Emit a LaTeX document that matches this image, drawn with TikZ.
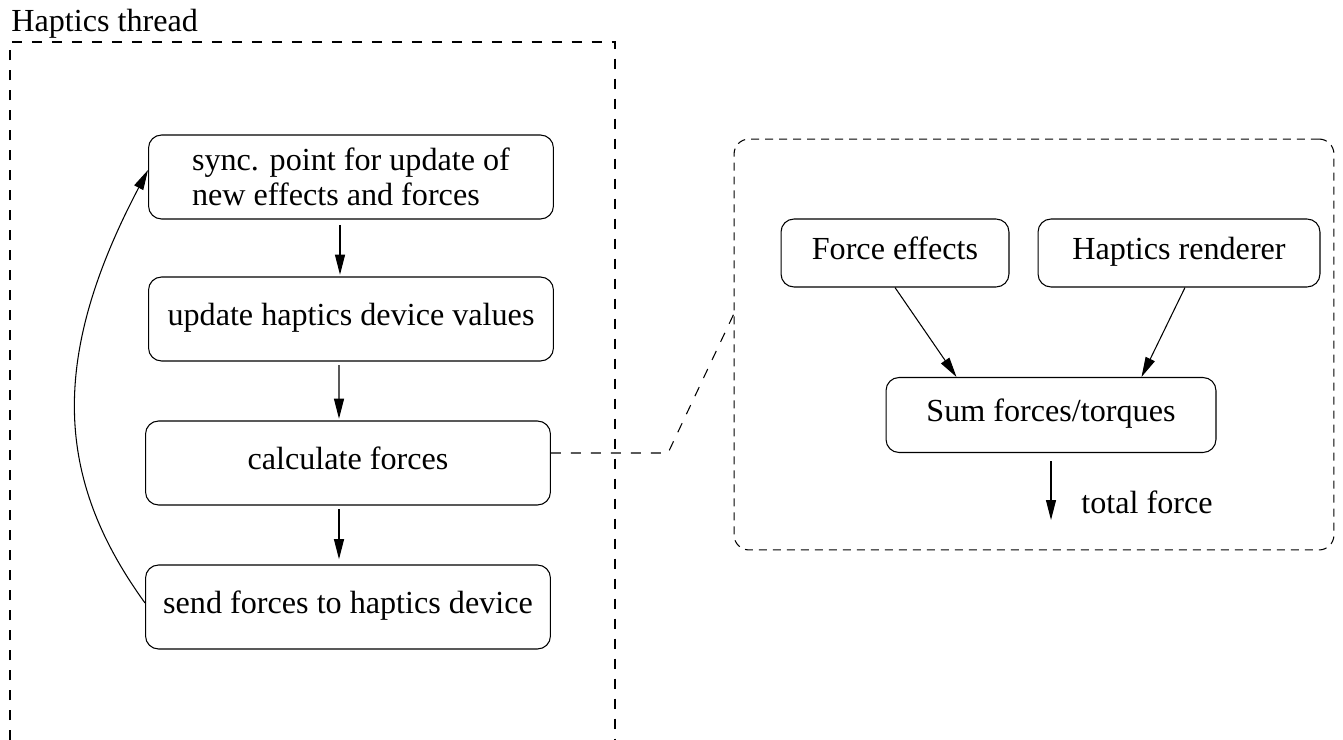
\documentclass[tikz,border=0pt]{standalone}
\usepackage{fontspec}
\setmainfont{Liberation Serif}
\usetikzlibrary{arrows.meta, positioning}

\tikzset{
  stepnode/.style={draw, rounded corners=0.26cm, line width=0.6pt, minimum height=1.68cm, inner sep=2pt, font=\fontsize{18.3}{20}\selectfont},
  oneline/.style={text height=0.82em, text depth=0.1em},
  grpline/.style={line width=0.6pt, dash pattern=on 0.2cm off 0.2cm},
  rndline/.style={line width=0.6pt, dash pattern=on 0.16cm off 0.12cm},
  arr/.style={-{Triangle[length=0.4cm,width=0.2cm]}, line width=0.6pt},
  lbl/.style={font=\fontsize{18.3}{20}\selectfont, inner sep=0pt}
}

\begin{document}
\begin{tikzpicture}[x=0.02cm, y=-0.02cm]
    \useasboundingbox (0,0) rectangle (1343,740);

    % Haptics thread
    \node[lbl, anchor=base west] (thrlbl) at (11,32) {Haptics thread};
    \draw[grpline] (10,740) |- (615,42) -- (615,740);

    \node[stepnode, minimum width=8.1cm, align=left] (sync) at (351,177) {sync. point for update of\\new effects and forces};
    \node[stepnode, oneline, minimum width=8.1cm] (upd) at (351,319) {update haptics device values};
    \node[stepnode, oneline, minimum width=8.1cm] (calc) at (348,463) {calculate forces};
    \node[stepnode, oneline, minimum width=8.1cm] (send) at (348,607) {send forces to haptics device};

    % Loop arrows
    \draw[arr, shorten <=3pt, shorten >=1pt] ([xshift=-0.22cm]sync.south) -- ([xshift=-0.22cm]upd.north);
    \draw[arr, shorten <=2pt, shorten >=1pt] ([xshift=-0.24cm]upd.south) -- ([xshift=-0.18cm]calc.north);
    \draw[arr, shorten <=2pt, shorten >=3pt] ([xshift=-0.18cm]calc.south) -- ([xshift=-0.18cm]send.north);
    \draw[arr] ([yshift=0.08cm]send.west) .. controls (56,480) and (48,360) .. ([yshift=0.14cm]sync.west);

    % Force rendering
    \node[draw, rndline, rounded corners=0.3cm, minimum width=12cm, minimum height=8.22cm] (rend) at (1034,344.5) {};
    \node[stepnode, oneline, minimum width=4.56cm, minimum height=1.36cm] (feff) at (895,253) {Force effects};
    \node[stepnode, oneline, minimum width=5.64cm, minimum height=1.36cm] (hrend) at (1179,253) {Haptics renderer};
    \node[stepnode, oneline, minimum width=6.6cm, minimum height=1.5cm] (sum) at (1051,415) {Sum forces/torques};

    \draw[arr] (feff.south) -- ([xshift=1.42cm]sum.north west);
    \draw[arr] ([xshift=0.12cm]hrend.south) -- ([xshift=-1.5cm]sum.north east);
    \coordinate (tot) at (1051,520);
    \draw[arr] ([yshift=-0.16cm]sum.south) -- (tot);
    \node[lbl, anchor=base west] (totlbl) at (1081,513) {total force};

    % Link
    \coordinate (bend) at (668,453);
    \draw[grpline] ([yshift=0.2cm]calc.east) -- (bend) -- ([yshift=0.6cm]rend.west);
\end{tikzpicture}
\end{document}
